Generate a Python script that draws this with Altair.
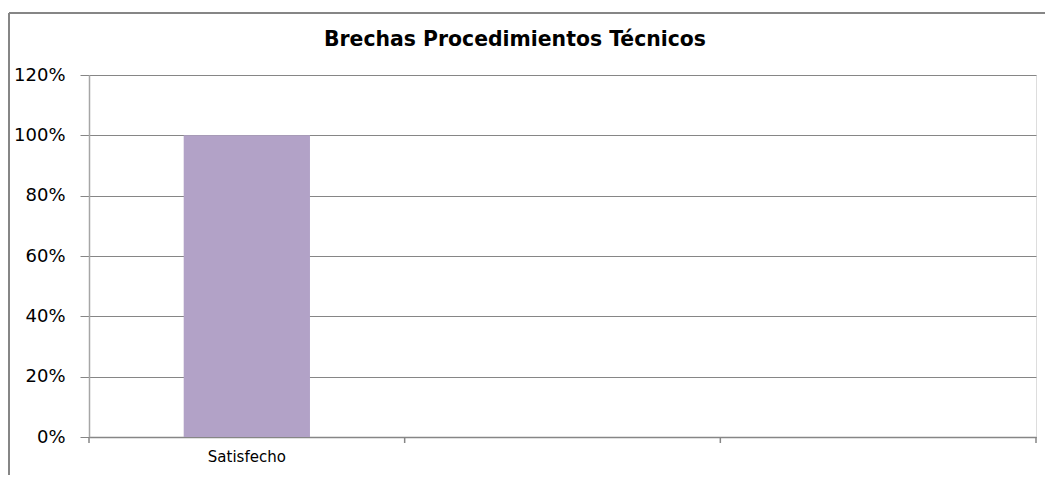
import altair as alt
import pandas as pd

categories = ["Satisfecho", " ", "  "]
values = [1.0, None, None]
y_ticks = [0, 0.2, 0.4, 0.6, 0.8, 1.0, 1.2]
title_text = "Brechas Procedimientos Técnicos"

df = pd.DataFrame({"cat": categories, "val": values})

GRAY = "#868686"
FONT = "DejaVu Sans"

xscale = alt.Scale(domain=categories, paddingInner=0, paddingOuter=0)
yscale = alt.Scale(domain=[0, 1.2], nice=False)

bars = alt.Chart(df).mark_bar(width=alt.RelativeBandSize(0.4), color="#b2a2c7").encode(
    x=alt.X("cat:N", scale=xscale, sort=categories, title=None,
            axis=alt.Axis(ticks=False, grid=False, domainColor=GRAY, domainWidth=1.5,
                          labelAngle=0, labelFont=FONT, labelFontSize=15, labelColor="#000000",
                          labelPadding=12)),
    y=alt.Y("val:Q", scale=yscale, title=None,
            axis=alt.Axis(values=y_ticks, format=".0%", grid=True, gridColor=GRAY,
                          tickColor=GRAY, tickSize=9, domainColor="#a6a6a6", domainWidth=1.5,
                          labelFont=FONT, labelFontSize=18, labelColor="#000000",
                          labelPadding=15)),
)

start_ticks = alt.Chart(df).mark_rule(color=GRAY, strokeWidth=1.5).encode(
    x=alt.X("cat:N", scale=xscale, sort=categories, bandPosition=0),
    y=alt.value(362), y2=alt.value(368),
)
end_tick = alt.Chart(df.tail(1)).mark_rule(color=GRAY, strokeWidth=1.5).encode(
    x=alt.X("cat:N", scale=xscale, sort=categories, bandPosition=1),
    y=alt.value(362), y2=alt.value(368),
)

frame_top = alt.Chart(df.head(1)).mark_rule(color=GRAY, strokeWidth=2).encode(
    x=alt.value(-80), x2=alt.value(970), y=alt.value(-62)
)
frame_left = alt.Chart(df.head(1)).mark_rule(color=GRAY, strokeWidth=2).encode(
    x=alt.value(-80), y=alt.value(-62), y2=alt.value(420)
)

title = alt.Chart(pd.DataFrame({"t": [title_text]})).mark_text(
    font=FONT, fontSize=20.4, fontWeight="bold", color="#000000",
    align="center", baseline="alphabetic"
).encode(text="t:N", x=alt.value(426), y=alt.value(-29))

chart = alt.layer(bars, start_ticks, end_tick, frame_top, frame_left, title).properties(
    width=947, height=362,
    autosize="none",
    padding={"left": 81, "top": 67, "right": 9, "bottom": 38},
).configure_view(stroke=None).configure(background="white")

chart.save("out.html", embed_options={"renderer": "svg", "actions": False})
